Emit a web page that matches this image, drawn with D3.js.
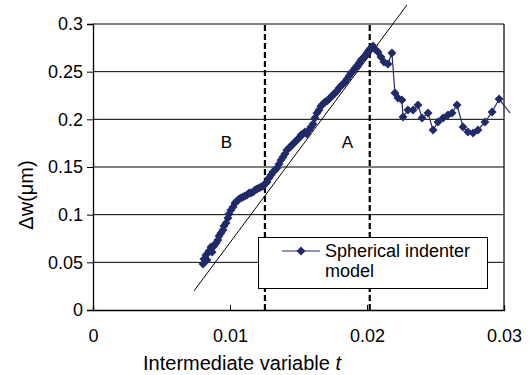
<!DOCTYPE html>
<html>
<head>
<meta charset="utf-8">
<script src="https://cdn.jsdelivr.net/npm/d3@7"></script>
<style>
  body { margin: 0; background: #fff; }
  text { font-family: "Liberation Sans", Arial, sans-serif; fill: #000; }
</style>
</head>
<body>
<div id="chart"></div>
<script>
// measured series: intermediate variable t and Δw (µm)
const tValues = [
  0.00803, 0.00810, 0.00825, 0.00832, 0.00847, 0.00861, 0.00869, 0.00883, 0.00898, 0.00912,
  0.00920, 0.00934, 0.00949, 0.00956, 0.00971, 0.00985, 0.00993, 0.01007, 0.01022, 0.01036,
  0.01051, 0.01066, 0.01080, 0.01095, 0.01109, 0.01124, 0.01139, 0.01153, 0.01168, 0.01183,
  0.01197, 0.01212, 0.01226, 0.01241, 0.01256, 0.01270, 0.01285, 0.01299, 0.01314, 0.01329,
  0.01343, 0.01358, 0.01372, 0.01387, 0.01401, 0.01416, 0.01431, 0.01445, 0.01460, 0.01474,
  0.01489, 0.01504, 0.01518, 0.01533, 0.01547, 0.01562, 0.01577, 0.01591, 0.01606, 0.01620,
  0.01635, 0.01650, 0.01664, 0.01679, 0.01693, 0.01708, 0.01723, 0.01737, 0.01752, 0.01766,
  0.01781, 0.01796, 0.01810, 0.01825, 0.01839, 0.01854, 0.01869, 0.01883, 0.01898, 0.01913,
  0.01927, 0.01942, 0.01956, 0.01971, 0.01986, 0.02000, 0.02015, 0.02029, 0.02044, 0.02058,
  0.02080, 0.02102, 0.02124, 0.02153, 0.02182, 0.02204, 0.02226, 0.02255, 0.02263, 0.02299,
  0.02336, 0.02372, 0.02402, 0.02445, 0.02482, 0.02518, 0.02555, 0.02591, 0.02621, 0.02657,
  0.02701, 0.02737, 0.02774, 0.02810, 0.02861, 0.02913, 0.02964, 0.03044
];
const dwValues = [
  0.0483, 0.0535, 0.0577, 0.0525, 0.0619, 0.0661, 0.0608, 0.0671, 0.0703, 0.0734,
  0.0776, 0.0808, 0.0839, 0.0881, 0.0913, 0.0965, 0.1007, 0.1049, 0.1080, 0.1122,
  0.1143, 0.1164, 0.1175, 0.1185, 0.1196, 0.1206, 0.1227, 0.1227, 0.1238, 0.1259,
  0.1269, 0.1280, 0.1290, 0.1301, 0.1322, 0.1343, 0.1385, 0.1416, 0.1448, 0.1469,
  0.1490, 0.1532, 0.1574, 0.1605, 0.1636, 0.1678, 0.1699, 0.1720, 0.1741, 0.1762,
  0.1783, 0.1804, 0.1836, 0.1846, 0.1867, 0.1846, 0.1888, 0.1920, 0.1951, 0.2014,
  0.2067, 0.2098, 0.2140, 0.2161, 0.2182, 0.2192, 0.2213, 0.2234, 0.2255, 0.2276,
  0.2297, 0.2329, 0.2350, 0.2371, 0.2392, 0.2423, 0.2455, 0.2486, 0.2507, 0.2539,
  0.2560, 0.2591, 0.2623, 0.2643, 0.2664, 0.2696, 0.2727, 0.2748, 0.2769, 0.2738,
  0.2706, 0.2654, 0.2602, 0.2581, 0.2696, 0.2276, 0.2224, 0.2203, 0.2025, 0.2098,
  0.2098, 0.2150, 0.2014, 0.2067, 0.1888, 0.1972, 0.2014, 0.2045, 0.2067, 0.2150,
  0.1920, 0.1867, 0.1857, 0.1888, 0.1972, 0.2077, 0.2213, 0.2067
];

// straight-line fit drawn over the rising part
const fitT = [0.00737, 0.02292];
const fitDw = [0.020, 0.320];

// region boundaries (dashed) and region labels
const boundaries = [0.01255, 0.0202];
const regionNames = ["B", "A"];
const regionT = [0.00974, 0.01858];
const regionDw = [0.170, 0.170];

const xTicks = [0, 0.01, 0.02, 0.03];
const yTicks = [0, 0.05, 0.1, 0.15, 0.2, 0.25, 0.3];
const seriesName = ["Spherical indenter", "model"];

const width = 531, height = 375;
const margin = { top: 24, right: 27, bottom: 65, left: 93 };
const navy = "#212a68";

const svg = d3.select("#chart").append("svg")
  .attr("width", width)
  .attr("height", height);

const x = d3.scaleLinear().domain([0, 0.03]).range([margin.left, width - margin.right]);
const y = d3.scaleLinear().domain([0, 0.3]).range([height - margin.bottom, margin.top]);

// horizontal gridlines
svg.append("g")
  .selectAll("line")
  .data(yTicks.slice(1))
  .join("line")
  .attr("x1", x(0)).attr("x2", x(0.03))
  .attr("y1", d => y(d)).attr("y2", d => y(d))
  .attr("stroke", "#000").attr("stroke-width", 1);

// right border
svg.append("line")
  .attr("x1", x(0.03)).attr("x2", x(0.03))
  .attr("y1", y(0)).attr("y2", y(0.3))
  .attr("stroke", "#000").attr("stroke-width", 1.2);

// dashed region boundaries
svg.append("g")
  .selectAll("line")
  .data(boundaries)
  .join("line")
  .attr("x1", d => x(d)).attr("x2", d => x(d))
  .attr("y1", y(0)).attr("y2", y(0.3))
  .attr("stroke", "#000").attr("stroke-width", 2.2)
  .attr("stroke-dasharray", "6,3");

// axes
const xAxis = svg.append("g")
  .attr("transform", `translate(0,${y(0)})`)
  .call(d3.axisBottom(x).tickValues(xTicks).tickFormat(d => d === 0 ? "0" : d3.format(".2f")(d)).tickSize(-5).tickPadding(19));
const yAxis = svg.append("g")
  .attr("transform", `translate(${x(0)},0)`)
  .call(d3.axisLeft(y).tickValues(yTicks).tickFormat(d => d === 0 ? "0" : String(d)).tickSize(6).tickPadding(4));

[xAxis, yAxis].forEach(g => {
  g.select(".domain").attr("stroke", "#000").attr("stroke-width", 1.3);
  g.selectAll(".tick line").attr("stroke", "#000");
  g.selectAll("text").style("font-size", "18px").attr("font-family", null);
});

// fit line
svg.append("line")
  .attr("x1", x(fitT[0])).attr("y1", y(fitDw[0]))
  .attr("x2", x(fitT[1])).attr("y2", y(fitDw[1]))
  .attr("stroke", "#000").attr("stroke-width", 1);

// data series
const pts = tValues.map((t, i) => ({ t, dw: dwValues[i] }));
const line = d3.line().x(d => x(d.t)).y(d => y(d.dw));
svg.append("path")
  .datum(pts)
  .attr("fill", "none")
  .attr("stroke", navy)
  .attr("stroke-width", 1.2)
  .attr("d", line);

const diamond = d3.symbol(d3.symbolSquare, 40);
svg.append("g")
  .selectAll("path")
  .data(pts.filter(d => d.t <= 0.03))
  .join("path")
  .attr("d", diamond)
  .attr("transform", d => `translate(${x(d.t)},${y(d.dw)}) rotate(45)`)
  .attr("fill", navy);

// region labels
svg.append("g")
  .selectAll("text")
  .data(regionNames)
  .join("text")
  .attr("x", (d, i) => x(regionT[i]))
  .attr("y", (d, i) => y(regionDw[i]))
  .attr("text-anchor", "middle")
  .style("font-size", "17px")
  .text(d => d);

// legend
const lg = svg.append("g");
lg.append("rect")
  .attr("x", 258.5).attr("y", 237.5).attr("width", 229).attr("height", 51)
  .attr("fill", "#fff").attr("stroke", "#000").attr("stroke-width", 1);
lg.append("line")
  .attr("x1", 282).attr("x2", 320).attr("y1", 251).attr("y2", 251)
  .attr("stroke", navy).attr("stroke-width", 1.2);
lg.append("path")
  .attr("d", diamond)
  .attr("transform", "translate(301,251) rotate(45)")
  .attr("fill", navy);
lg.selectAll("text")
  .data(seriesName)
  .join("text")
  .attr("x", 325)
  .attr("y", (d, i) => 257 + i * 20)
  .style("font-size", "18px")
  .text(d => d);

// axis titles
const xt = svg.append("text")
  .attr("x", 242)
  .attr("y", 370)
  .attr("text-anchor", "middle")
  .style("font-size", "20px");
xt.append("tspan").text("Intermediate variable ");
xt.append("tspan").style("font-style", "italic").text("t");

svg.append("text")
  .attr("transform", "translate(33,195) rotate(-90)")
  .attr("text-anchor", "middle")
  .style("font-size", "20px")
  .text("Δw(μm)");
</script>
</body>
</html>
